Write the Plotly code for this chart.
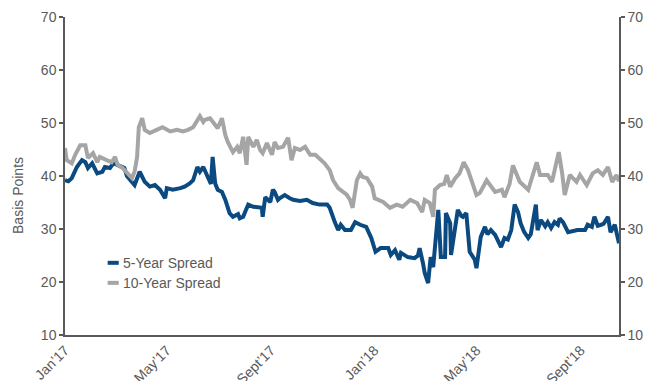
import plotly.graph_objects as go

# ---- data ----
series_names = ["5-Year Spread", "10-Year Spread"]

dates_5y = [
    "2017-01-01", "2017-01-05", "2017-01-09", "2017-01-15", "2017-01-21", "2017-01-25", "2017-01-28",
    "2017-02-02", "2017-02-08", "2017-02-14", "2017-02-17", "2017-02-23", "2017-02-27", "2017-03-04",
    "2017-03-12", "2017-03-15", "2017-03-19", "2017-03-24", "2017-03-30", "2017-04-05", "2017-04-11",
    "2017-04-17", "2017-04-23", "2017-04-29", "2017-05-01", "2017-05-08", "2017-05-17", "2017-05-22",
    "2017-05-28", "2017-06-01", "2017-06-06", "2017-06-09", "2017-06-13", "2017-06-17", "2017-06-20",
    "2017-06-22", "2017-06-24", "2017-06-27", "2017-06-30", "2017-07-05", "2017-07-09", "2017-07-12",
    "2017-07-14", "2017-07-18", "2017-07-24", "2017-07-26", "2017-07-30", "2017-08-02", "2017-08-05",
    "2017-08-11", "2017-08-19", "2017-08-21", "2017-08-22", "2017-08-25", "2017-08-31", "2017-09-03",
    "2017-09-05", "2017-09-09", "2017-09-11", "2017-09-17", "2017-09-23", "2017-09-27", "2017-10-05",
    "2017-10-13", "2017-10-20", "2017-10-28", "2017-11-06", "2017-11-09", "2017-11-15", "2017-11-19",
    "2017-11-22", "2017-11-27", "2017-12-04", "2017-12-09", "2017-12-15", "2017-12-22", "2017-12-28",
    "2018-01-02", "2018-01-08", "2018-01-17", "2018-01-20", "2018-01-25", "2018-01-30", "2018-02-01",
    "2018-02-09", "2018-02-17", "2018-02-21", "2018-02-23", "2018-02-27", "2018-03-01", "2018-03-05",
    "2018-03-08", "2018-03-11", "2018-03-14", "2018-03-17", "2018-03-20", "2018-03-25", "2018-03-26",
    "2018-03-31", "2018-04-01", "2018-04-06", "2018-04-09", "2018-04-13", "2018-04-15", "2018-04-19",
    "2018-04-23", "2018-04-29", "2018-05-01", "2018-05-06", "2018-05-11", "2018-05-14", "2018-05-18",
    "2018-05-23", "2018-05-26", "2018-05-30", "2018-06-03", "2018-06-07", "2018-06-11", "2018-06-15",
    "2018-06-19", "2018-06-22", "2018-06-26", "2018-07-01", "2018-07-04", "2018-07-10", "2018-07-12",
    "2018-07-16", "2018-07-21", "2018-07-24", "2018-07-28", "2018-08-01", "2018-08-05", "2018-08-07",
    "2018-08-11", "2018-08-17", "2018-08-28", "2018-09-06", "2018-09-09", "2018-09-14", "2018-09-17",
    "2018-09-21", "2018-09-25", "2018-09-28", "2018-10-03", "2018-10-06", "2018-10-11", "2018-10-13",
    "2018-10-16",
]
values_5y = [
    39.2, 39.0, 39.6, 41.7, 43.0, 42.6, 41.5,
    42.4, 40.5, 40.8, 41.7, 41.5, 42.4, 42.1,
    41.5, 40.0, 39.2, 38.3, 40.8, 38.9, 38.0,
    38.3, 37.4, 35.8, 37.7, 37.4, 37.7, 38.0,
    38.6, 39.2, 41.7, 40.8, 41.7, 40.2, 39.2,
    38.5, 43.6, 38.6, 37.4, 37.0, 35.5, 34.0,
    33.0, 32.3, 32.8, 32.0, 32.3, 33.5, 34.6,
    34.2, 34.0, 34.0, 32.3, 36.0, 35.1, 37.4,
    37.0, 35.5, 35.8, 36.4, 35.8, 35.5, 35.3,
    35.5, 34.9, 34.6, 34.6, 34.0, 31.3, 29.8,
    30.8, 29.8, 29.8, 31.3, 30.8, 30.4, 28.3,
    25.7, 26.4, 26.4, 25.1, 26.0, 24.2, 25.5,
    24.7, 24.5, 25.0, 26.4, 23.5, 21.7, 19.8,
    24.7, 22.8, 28.5, 33.6, 24.7, 24.7, 33.0,
    31.1, 25.1, 29.8, 33.6, 32.5, 32.3, 33.0,
    25.7, 24.2, 22.6, 28.5, 30.4, 29.0, 29.8,
    28.9, 27.9, 26.6, 28.3, 28.0, 29.8, 34.6,
    33.2, 31.1, 29.5, 28.3, 29.0, 34.6, 29.8,
    31.7, 30.5, 31.3, 30.2, 31.3, 30.8, 32.0,
    31.3, 29.4, 29.8, 29.8, 30.8, 30.4, 32.3,
    30.6, 30.8, 31.0, 32.3, 29.4, 30.8, 29.5,
    27.3,
]

dates_10y = [
    "2017-01-01", "2017-01-03", "2017-01-09", "2017-01-13", "2017-01-19", "2017-01-25", "2017-01-28",
    "2017-02-03", "2017-02-08", "2017-02-11", "2017-02-19", "2017-02-25", "2017-03-01", "2017-03-04",
    "2017-03-10", "2017-03-16", "2017-03-21", "2017-03-24", "2017-03-27", "2017-03-29", "2017-04-02",
    "2017-04-05", "2017-04-11", "2017-04-19", "2017-04-26", "2017-05-05", "2017-05-13", "2017-05-20",
    "2017-05-26", "2017-06-01", "2017-06-06", "2017-06-09", "2017-06-13", "2017-06-15", "2017-06-21",
    "2017-06-27", "2017-06-30", "2017-07-05", "2017-07-09", "2017-07-12", "2017-07-18", "2017-07-23",
    "2017-07-26", "2017-07-30", "2017-08-03", "2017-08-05", "2017-08-11", "2017-08-15", "2017-08-19",
    "2017-08-22", "2017-08-27", "2017-09-02", "2017-09-05", "2017-09-09", "2017-09-15", "2017-09-21",
    "2017-09-25", "2017-09-29", "2017-10-05", "2017-10-11", "2017-10-17", "2017-10-23", "2017-10-26",
    "2017-10-28", "2017-11-03", "2017-11-09", "2017-11-13", "2017-11-19", "2017-11-25", "2017-11-29",
    "2017-12-03", "2017-12-06", "2017-12-11", "2017-12-15", "2017-12-18", "2017-12-23", "2017-12-29",
    "2018-01-01", "2018-01-11", "2018-01-19", "2018-01-27", "2018-02-03", "2018-02-12", "2018-02-20",
    "2018-02-26", "2018-03-01", "2018-03-07", "2018-03-11", "2018-03-13", "2018-03-19", "2018-03-24",
    "2018-03-27", "2018-03-31", "2018-04-06", "2018-04-11", "2018-04-16", "2018-04-21", "2018-04-27",
    "2018-05-01", "2018-05-05", "2018-05-09", "2018-05-13", "2018-05-23", "2018-05-31", "2018-06-03",
    "2018-06-09", "2018-06-13", "2018-06-21", "2018-07-01", "2018-07-06", "2018-07-11", "2018-07-15",
    "2018-07-24", "2018-07-29", "2018-08-01", "2018-08-06", "2018-08-10", "2018-08-13", "2018-08-19",
    "2018-08-27", "2018-08-31", "2018-09-08", "2018-09-15", "2018-09-21", "2018-09-27", "2018-10-03",
    "2018-10-08", "2018-10-13", "2018-10-16",
]
values_10y = [
    45.3, 43.0, 42.4, 44.0, 45.8, 45.8, 43.4,
    44.3, 42.6, 43.6, 43.0, 42.6, 43.6, 42.1,
    41.5, 40.5, 39.6, 40.8, 43.6, 49.2, 50.9,
    48.7, 48.1, 48.7, 49.2, 48.4, 48.7, 48.4,
    48.7, 49.2, 50.6, 51.3, 50.2, 50.6, 50.9,
    49.6, 49.0, 50.9, 47.7, 46.4, 44.5, 45.5,
    44.3, 47.4, 42.1, 47.4, 45.5, 46.8, 44.9,
    44.3, 46.2, 44.0, 46.4, 45.3, 45.5, 47.2,
    43.0, 45.3, 44.9, 45.5, 44.0, 44.0, 43.6,
    43.4, 42.4, 41.1, 39.2, 37.7, 37.0, 36.5,
    35.5, 34.0, 39.2, 40.5, 39.8, 39.6, 38.0,
    35.8, 35.1, 34.0, 34.6, 34.2, 35.5, 34.9,
    33.2, 35.5, 34.9, 32.3, 37.4, 38.3, 38.5,
    40.2, 38.0, 39.6, 40.5, 42.6, 41.1, 38.3,
    36.4, 36.8, 38.0, 39.2, 37.0, 37.4, 36.0,
    38.5, 42.0, 38.9, 37.4, 40.0, 42.6, 40.2,
    40.2, 38.9, 40.8, 44.5, 40.5, 36.4, 40.2,
    38.9, 40.2, 38.3, 40.5, 41.1, 40.2, 41.7,
    38.9, 40.2, 39.0,
]

tick_dates = ["2017-01-01", "2017-05-01", "2017-09-01", "2018-01-01", "2018-05-01", "2018-09-01"]
tick_labels = ["Jan\u201917", "May\u201917", "Sept\u201917", "Jan\u201918", "May\u201918", "Sept\u201918"]
y_ticks = [10, 20, 30, 40, 50, 60, 70]

colors = ["#0b4a80", "#a5a5a5"]
axis_color = "#595959"
font_family = "Liberation Sans, Arial, sans-serif"
fs = 14

fig = go.Figure()
fig.add_trace(go.Scatter(x=dates_5y, y=values_5y, mode="lines", name=series_names[0],
                         line=dict(color=colors[0], width=4), showlegend=False))
fig.add_trace(go.Scatter(x=dates_10y, y=values_10y, mode="lines", name=series_names[1],
                         line=dict(color=colors[1], width=4), showlegend=False))
# invisible trace to anchor right-hand axis
fig.add_trace(go.Scatter(x=[dates_5y[0]], y=[values_5y[0]], yaxis="y2", mode="lines",
                         line=dict(width=0), hoverinfo="skip", showlegend=False))

# custom legend (short swatches)
legend_y = [0.227, 0.164]
for i, nm in enumerate(series_names):
    fig.add_shape(type="line", xref="paper", yref="paper",
                  x0=0.077, x1=0.097, y0=legend_y[i], y1=legend_y[i],
                  line=dict(color=colors[i], width=4))
    fig.add_annotation(xref="paper", yref="paper", x=0.101, y=legend_y[i], text=nm,
                       showarrow=False, xanchor="left", yanchor="middle",
                       font=dict(size=fs, color=axis_color, family=font_family))

fig.add_annotation(xref="paper", yref="paper", x=-0.085, y=0.44, text="Basis Points",
                   textangle=-90, showarrow=False, xanchor="center", yanchor="middle",
                   font=dict(size=fs, color=axis_color, family=font_family))

yaxis_common = dict(range=[10, 70], tickvals=y_ticks, showgrid=False, zeroline=False,
                    showline=True, linecolor=axis_color, linewidth=1.5, automargin=False,
                    ticks="outside", ticklen=4, tickwidth=1.5, tickcolor=axis_color,
                    tickfont=dict(size=fs, color=axis_color, family=font_family))

fig.update_layout(
    width=648, height=381,
    margin=dict(l=65, r=29, t=17, b=46),
    plot_bgcolor="white", paper_bgcolor="white",
    font=dict(family=font_family, color=axis_color),
    xaxis=dict(range=["2017-01-01", "2018-10-16"], tickvals=tick_dates, ticktext=tick_labels,
               tickangle=-45, showgrid=False, zeroline=False, showline=True, automargin=False,
               linecolor=axis_color, linewidth=1.5, ticks="",
               tickfont=dict(size=fs, color=axis_color, family=font_family)),
    yaxis=dict(**yaxis_common, side="left"),
    yaxis2=dict(**yaxis_common, side="right", overlaying="y"),
    showlegend=False,
)

fig.write_html("out.html")
